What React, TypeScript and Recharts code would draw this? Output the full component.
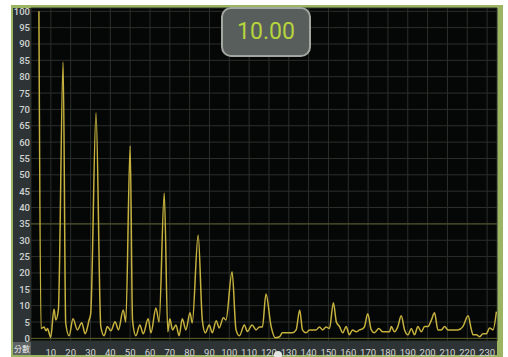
import React from 'react';
import { LineChart, Line, XAxis, YAxis, CartesianGrid, ReferenceLine } from 'recharts';

// spectrum trace: frequency bin -> level
const freqs = [
  4.0, 5.05, 6.6, 7.6, 8.3, 9.95, 11.6, 12.5, 13.8, 16.2, 17.5, 19.2, 21.2, 23.4, 25.6, 27.3, 29.3, 30.1,
  32.8, 35.2, 36.9, 38.5, 40.3, 42.4, 44.1, 46.5, 47.8, 50.0, 51.2, 52.9, 54.9, 56.6, 59.1, 60.5, 63.0, 64.6,
  67.2, 69.0, 70.0, 71.4, 73.1, 74.7, 76.3, 78.1, 80.2, 81.3, 84.3, 86.4, 87.9, 89.9, 91.4, 93.4, 94.9, 97.0,
  98.3, 101.4, 103.4, 105.1, 107.6, 109.1, 111.5, 113.5, 115.2, 116.7, 118.5, 121.1, 123.2, 125.3, 126.8,
  131.8, 133.7, 135.5, 136.9, 138.7, 140.4, 143.8, 145.5, 147.0, 148.8, 150.5, 152.5, 154.0, 155.6, 157.2,
  158.9, 160.6, 162.1, 164.0, 165.7, 167.3, 168.2, 169.8, 171.6, 173.2, 175.4, 177.4, 180.8, 181.7, 183.3,
  185.0, 186.7, 188.4, 190.1, 191.8, 193.4, 195.1, 196.8, 198.5, 200.2, 201.9, 203.5, 205.2, 206.9, 208.6,
  210.3, 215.3, 217.8, 220.4, 222.1, 222.9, 224.6, 226.3, 227.9, 229.6, 231.3, 233.0, 234.7,
];
const levels = [
  100, 3, 3.5, 2.3, 3, 0.3, 9, 5.6, 8.7, 84.5, 4.7, 0.8, 6, 2.6, 4.8, 1.4, 5.6, 7.5,
  69, 3.6, 0.8, 3.6, 2.3, 5.1, 2.6, 8.7, 5, 58.8, 5.6, 0.8, 4.1, 1.4, 6, 1.7, 9.3, 5,
  44.4, 2, 6, 2.6, 4.1, 0.8, 6, 2.6, 7.8, 4.7, 31.6, 5.6, 1.7, 4.1, 1.7, 5.4, 3.2, 6.3,
  5.6, 20.4, 2.6, 0.8, 4.1, 2.1, 4.1, 2.6, 3.5, 3.5, 13.6, 3.6, 0.2, 0.5, 1.7,
  1.7, 2.6, 8.7, 2.6, 1.7, 2.6, 2.6, 3.5, 2.6, 3.5, 3, 10.9, 5, 3.6, 1.7,
  3.6, 1.1, 2.6, 2, 2.6, 3, 3.6, 7.5, 2.6, 1.7, 3, 2, 2, 3.6, 2,
  3.6, 6.9, 2.6, 1.1, 3, 1.1, 3.6, 2, 3.6, 3.6, 5.6, 7.8, 2.6, 2.6, 3.6,
  2.6, 2.6, 3.6, 6.9, 2.6, 1.1, 1.1, 0.5, 1.4, 1.4, 3.2, 2.6, 8.2,
];

const xTicks = [10, 20, 30, 40, 50, 60, 70, 80, 90, 100, 110, 120, 130, 140, 150, 160, 170, 180, 190, 200, 210, 220, 230];
const yTicks = [0, 5, 10, 15, 20, 25, 30, 35, 40, 45, 50, 55, 60, 65, 70, 75, 80, 85, 90, 95, 100];
const markerLevels = [0, 35];
const readout = '10.00';
const unitLabel = '分數';

const data = freqs.map((f, i) => ({ f, v: levels[i] }));

const FONT = 'Roboto, "Noto Sans", sans-serif';

const YTick = (props: any) => {
  const { y, payload } = props;
  return (
    <text x={30} y={y} textAnchor="end" dominantBaseline="central" fill="#cfd3d3" fontSize={9.5} fontFamily={FONT} fontWeight={500}>
      {payload.value}
    </text>
  );
};

const XTick = (props: any) => {
  const { x, payload } = props;
  return (
    <text x={x} y={352} textAnchor="middle" dominantBaseline="central" fill="#d3d6d6" fontSize={9.5} fontFamily={FONT}>
      {payload.value}
    </text>
  );
};

export default function App() {
  return (
    <div style={{ position: 'absolute', left: 0, top: 0, width: 508, height: 357, background: '#fff', overflow: 'hidden' }}>
      {/* green frame + dark axis strips */}
      <div style={{ position: 'absolute', left: 11, top: 5, width: 492, height: 352, background: '#9cb562' }} />
      <div style={{ position: 'absolute', left: 13, top: 8, width: 484, height: 347, background: '#2e3435' }} />

      <div style={{ position: 'absolute', left: 0, top: 0 }}>
        <LineChart width={508} height={357} data={data} margin={{ top: 8, right: 11, bottom: 2, left: 13 }}>
          <CartesianGrid stroke="#2b302b" strokeWidth={1} fill="#050606" />
          <XAxis
            type="number"
            dataKey="f"
            domain={[0, 235]}
            ticks={xTicks}
            allowDataOverflow
            height={14}
            axisLine={false}
            tickLine={false}
            tick={<XTick />}
            interval={0}
          />
          <YAxis
            type="number"
            domain={[-0.8, 101]}
            ticks={yTicks}
            allowDataOverflow
            width={18}
            axisLine={false}
            tickLine={false}
            tick={<YTick />}
            interval={0}
          />
          {markerLevels.map(m => (
            <ReferenceLine key={m} y={m} stroke="#5b5a2c" strokeWidth={1} />
          ))}
          <Line
            type="monotone"
            dataKey="v"
            stroke="#c6b23e"
            strokeWidth={1.5}
            dot={false}
            isAnimationActive={false}
          />
        </LineChart>
      </div>

      {/* unit tag in the corner */}
      <div
        style={{
          position: 'absolute', left: 13, top: 342, width: 18, height: 13, background: '#5d6263',
          color: '#f0f0f0', fontSize: 8, lineHeight: '13px', textAlign: 'center', fontFamily: '"Noto Sans CJK TC", sans-serif',
        }}
      >
        {unitLabel}
      </div>
      <div style={{ position: 'absolute', left: 274, top: 351, width: 8, height: 8, borderRadius: 4, background: '#e4e6e4' }} />

      {/* current value readout */}
      <div
        style={{
          position: 'absolute', left: 221, top: 7, width: 86, height: 46, background: '#585e5c',
          border: '2px solid #a3a7a2', borderRadius: 10, color: '#b6d43c', fontFamily: FONT,
          fontSize: 23, lineHeight: '46px', textAlign: 'center',
        }}
      >
        {readout}
      </div>
    </div>
  );
}
